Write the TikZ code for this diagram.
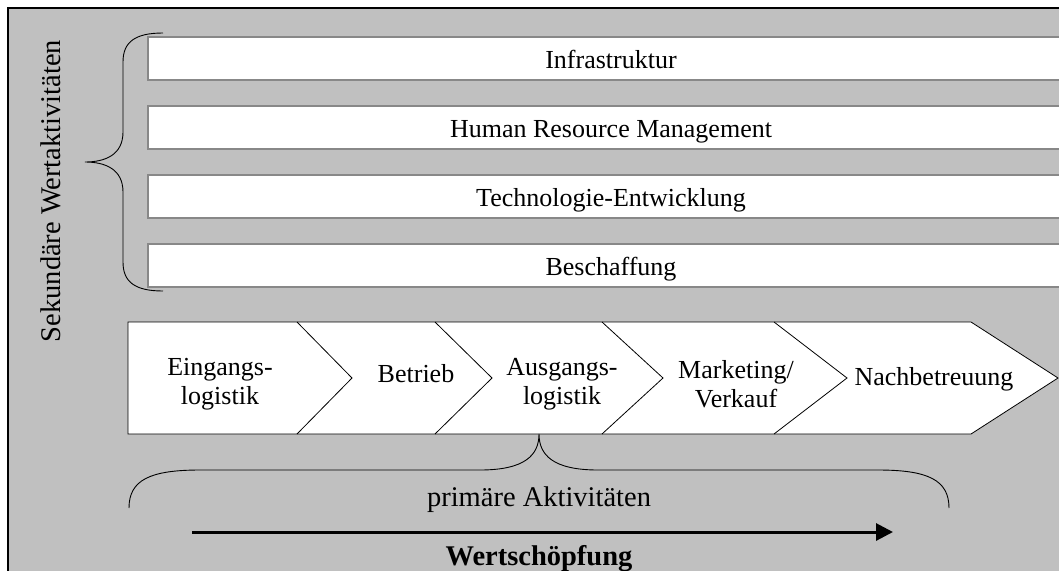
\documentclass[tikz,border=0pt]{standalone}
\usepackage{fontspec}
\setmainfont{Liberation Serif}
\usetikzlibrary{arrows.meta}
\definecolor{bggray}{HTML}{C0C0C0}
\definecolor{bargray}{HTML}{888888}

\begin{document}
\begin{tikzpicture}[x=1pt,y=-1pt,
	bar/.style={draw=bargray,line width=1.2pt,fill=white},
	lbl/.style={font=\fontsize{26}{28.5}\selectfont,align=center,inner sep=0pt},
	big/.style={font=\fontsize{28.5}{30}\selectfont,inner sep=0pt},
	brace/.style={line width=0.9pt}]
\useasboundingbox (0,0) rectangle (1059,570);
\clip (0,0) rectangle (1059,570);
\fill[bggray] (8,8) rectangle (1080,590);
\draw[line width=2pt] (8,590) -- (8,8) -- (1080,8);

% secondary activities
\foreach \y/\name/\txt in {37/infra/Infrastruktur, 106/hrm/Human Resource Management,
	175/tech/Technologie-Entwicklung, 244/besch/Beschaffung}
{
	\draw[bar] (148,\y) rectangle (1075,\y+43);
	\node[lbl,anchor=base] (\name) at (611,\y+31) {\txt};
}
\draw[brace] (163,33) .. controls (135,33) and (123,42) .. (123,62) -- (123,132)
	.. controls (123,155) and (105,162) .. (85,162)
	.. controls (105,162) and (123,169) .. (123,192) -- (123,262)
	.. controls (123,282) and (135,291) .. (163,291);
\node[big,rotate=90,anchor=base] (sek) at (60,191) {Sekundäre Wertaktivitäten};

% primary activities
\draw[fill=white,line width=0.8pt] (128,322) -- (971,322) -- (1058,378)
	-- (971,434) -- (128,434) -- cycle;
\foreach \a/\b in {297/352, 435/492, 602/663, 774/847}
	\draw[line width=0.8pt] (\a,322) -- (\b,378) -- (\a,434);
\node[lbl] (ein) at (220,384) {Eingangs-\\logistik};
\node[lbl,anchor=base] (betrieb) at (416,382) {Betrieb};
\node[lbl] (aus) at (562,384) {Ausgangs-\\logistik};
\node[lbl] (mark) at (736,384) {Marketing/\\Verkauf};
\node[lbl,anchor=base] (nach) at (934,385) {Nachbetreuung};

\draw[brace] (129,508) .. controls (129,480) and (150,470) .. (200,470) -- (480,470)
	.. controls (525,470) and (539,455) .. (539,434)
	.. controls (539,455) and (553,470) .. (598,470) -- (878,470)
	.. controls (928,470) and (949,480) .. (949,508);
\node[big,anchor=base] (prim) at (539,506) {primäre Aktivitäten};

\coordinate (ws start) at (192,532);
\coordinate (ws end) at (893,532);
\draw[line width=3pt,-{Triangle[length=17pt,width=17pt]}] (ws start) -- (ws end);
\node[big,anchor=base,font=\fontsize{28.5}{30}\selectfont\bfseries] (wert) at (539,565) {Wertschöpfung};
\end{tikzpicture}
\end{document}
